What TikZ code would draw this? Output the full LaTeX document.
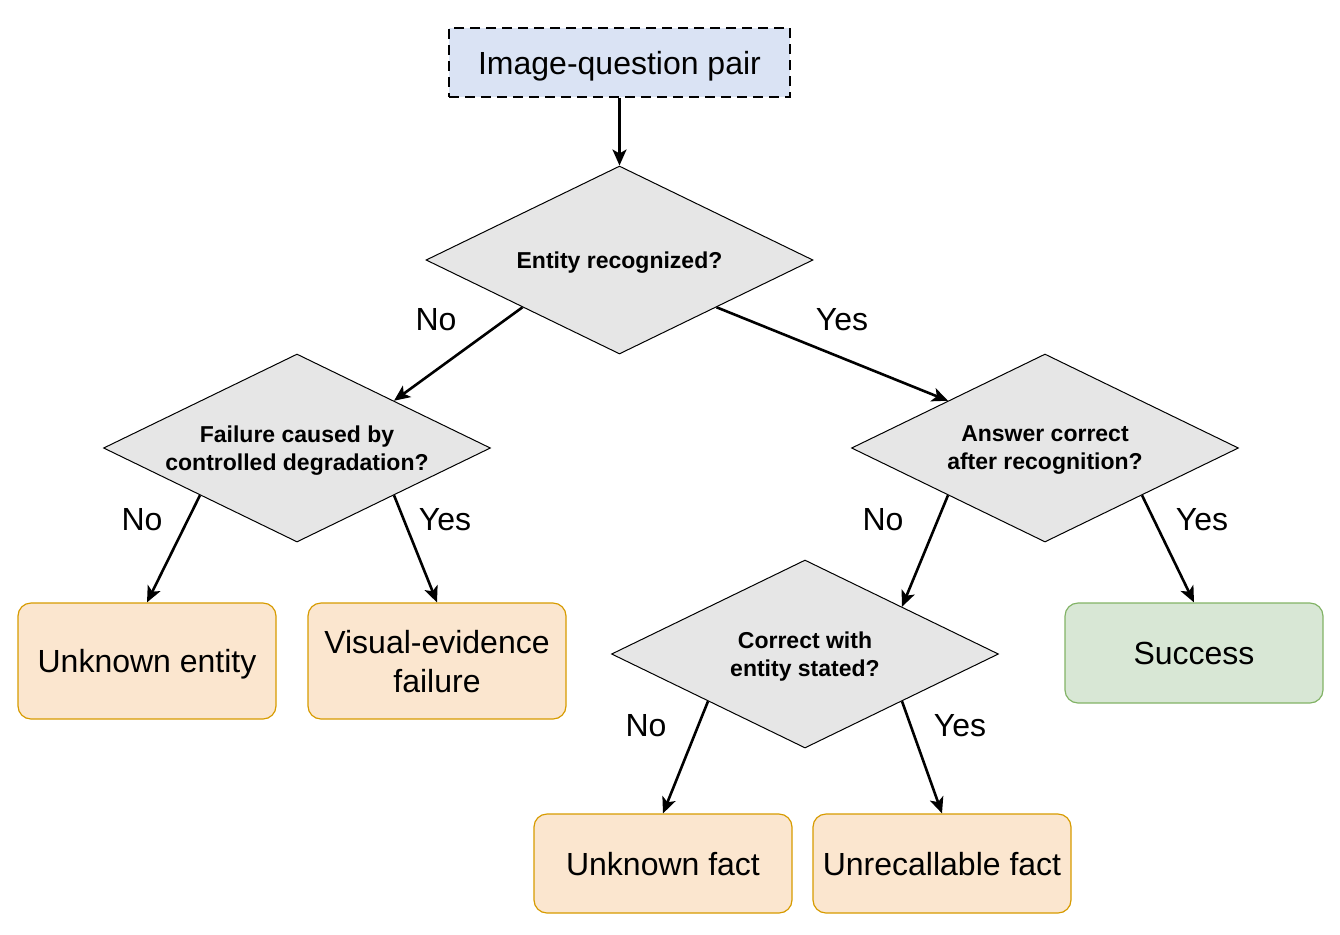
\documentclass[tikz,border=0pt]{standalone}
\usepackage{fontspec}
\setmainfont{Liberation Sans}
\usepackage{tikz}
\usetikzlibrary{arrows.meta,positioning,shapes.geometric}
\definecolor{InputBlue}{HTML}{DAE3F4}
\definecolor{TestGray}{HTML}{E6E6E6}
\definecolor{FailFill}{HTML}{FBE6CF}
\definecolor{FailLine}{HTML}{D79B00}
\definecolor{OkFill}{HTML}{D8E7D5}
\definecolor{OkLine}{HTML}{82B366}

\begin{document}
\begin{tikzpicture}[x=0.5pt, y=-0.5pt,
    inputbox/.style={draw=black, dash pattern=on 5pt off 3pt, line width=0.6pt, fill=InputBlue, minimum width=170.5pt, minimum height=34.5pt, inner sep=0pt, text depth=0pt, font=\fontsize{16}{19}\selectfont},
    test/.style={diamond, draw=black, line width=0.5pt, fill=TestGray, minimum width=193.5pt, minimum height=94pt, inner sep=0pt, shape aspect=2.06, align=center, text depth=0pt, font=\fontsize{11.5}{14}\selectfont\bfseries},
    failbox/.style={draw=FailLine, rounded corners=6.5pt, line width=0.6pt, fill=FailFill, minimum width=129pt, minimum height=58pt, inner sep=0pt, align=center, text depth=0pt, font=\fontsize{16}{19.5}\selectfont},
    okbox/.style={draw=OkLine, rounded corners=6.5pt, line width=0.6pt, fill=OkFill, minimum width=129pt, minimum height=50pt, inner sep=0pt, text depth=0pt, font=\fontsize{16}{19.5}\selectfont},
    answer/.style={font=\fontsize{16}{19}\selectfont, inner sep=0pt},
    arrow/.style={-{Stealth[length=8pt, width=7pt, inset=2pt]}, line width=1.3pt, draw=black}
]
\useasboundingbox (0,0) rectangle (1340,934);
\node[inputbox] (pair) at (619.5,62.5) {Image-question pair};
\node[test] (recog) at (619.5,260) {Entity recognized?};
\node[test] (degr) at (297,448) {Failure caused by\\controlled degradation?};
\node[test] (after) at (1045,448) {Answer correct\\after recognition?};
\node[test] (stated) at (805,654) {Correct with\\entity stated?};
\node[failbox] (unkent) at (147,661) {Unknown entity};
\node[failbox] (visual) at (437,661) {Visual-evidence\\failure};
\node[okbox] (success) at (1194,653) {Success};
\node[failbox, minimum height=49.5pt] (unkfact) at (663,863.5) {Unknown fact};
\node[failbox, minimum height=49.5pt] (unrec) at (942,863.5) {Unrecallable fact};
\node[answer] (no1) at (436,320) {No};
\node[answer] (yes1) at (842,320) {Yes};
\node[answer] (no2) at (142,520) {No};
\node[answer] (yes2) at (445,520) {Yes};
\node[answer] (no3) at (883,520) {No};
\node[answer] (yes3) at (1202,520) {Yes};
\node[answer] (no4) at (646,726) {No};
\node[answer] (yes4) at (960,726) {Yes};
\draw[arrow] (pair) -- (recog);
\draw[arrow] (recog.south west) -- (degr.north east);
\draw[arrow] (recog.south east) -- (after.north west);
\draw[arrow] (degr.south west) -- (unkent.north);
\draw[arrow] (degr.south east) -- (visual.north);
\draw[arrow] (after.south west) -- (stated.north east);
\draw[arrow] (after.south east) -- (success.north);
\draw[arrow] (stated.south west) -- (unkfact.north);
\draw[arrow] (stated.south east) -- (unrec.north);
\end{tikzpicture}
\end{document}
